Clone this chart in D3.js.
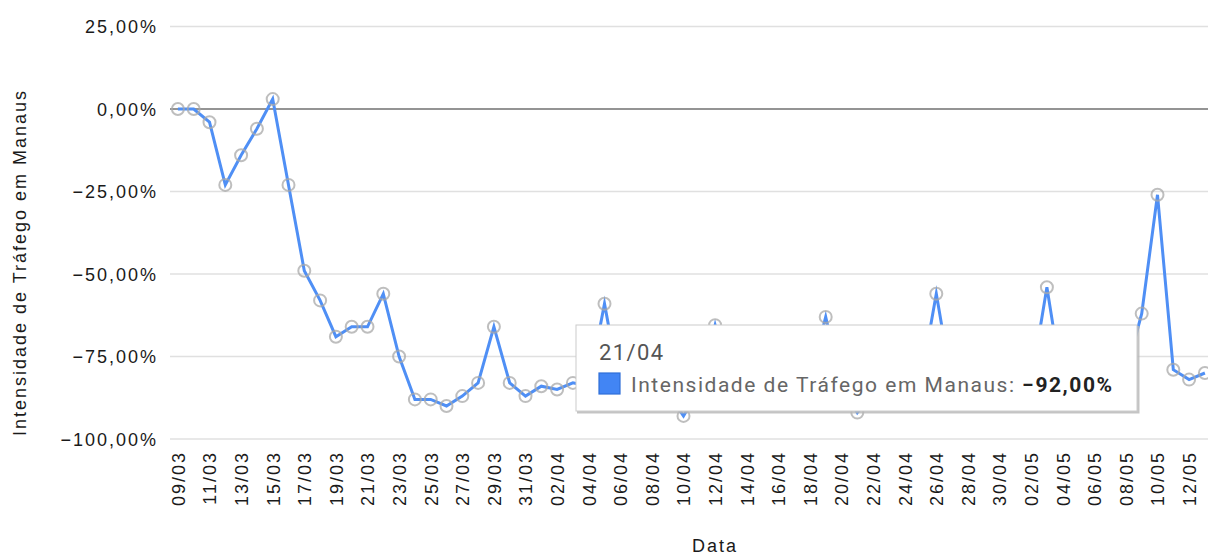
<!DOCTYPE html>
<html>
<head>
<meta charset="utf-8">
<script src="https://cdn.jsdelivr.net/npm/d3@7"></script>
<style>
  html, body { margin: 0; padding: 0; background: #fff; }
  svg { display: block; }
</style>
</head>
<body>
<svg id="chart" width="1208" height="557"></svg>
<script>
const categories = ["09/03","10/03","11/03","12/03","13/03","14/03","15/03","16/03","17/03","18/03","19/03","20/03","21/03","22/03","23/03","24/03","25/03","26/03","27/03","28/03","29/03","30/03","31/03","01/04","02/04","03/04","04/04","05/04","06/04","07/04","08/04","09/04","10/04","11/04","12/04","13/04","14/04","15/04","16/04","17/04","18/04","19/04","20/04","21/04","22/04","23/04","24/04","25/04","26/04","27/04","28/04","29/04","30/04","01/05","02/05","03/05","04/05","05/05","06/05","07/05","08/05","09/05","10/05","11/05","12/05","13/05"];
const values = [0,0,-4,-23,-14,-6,3,-23,-49,-58,-69,-66,-66,-56,-75,-88,-88,-90,-87,-83,-66,-83,-87,-84,-85,-83,-84,-59,-85,-86,-87,-86,-93,-85,-65.5,-84,-86,-87,-86,-84,-82,-63,-84,-92,-86,-85,-84,-83,-56,-84,-85,-86,-85,-84,-83,-54,-84,-85,-85,-84,-80,-62,-26,-79,-82,-80];
const yTicks = [-100, -75, -50, -25, 0, 25];
const seriesName = "Intensidade de Tráfego em Manaus";
const xTitle = "Data";
const focusCategory = "21/04";

(function () {
const svg = d3.select("#chart");
const plotLeft = 170, plotW = 66 * 15.8, plotRight = plotLeft + plotW;
const plotTop = 26.5, plotBottom = 439;

const x = d3.scalePoint().domain(categories).range([plotLeft, plotRight]).padding(0.5);
const y = d3.scaleLinear().domain([-100, 25]).range([plotBottom, plotTop]);

const loc = d3.formatLocale({decimal: ",", thousands: ".", grouping: [3], currency: ["", ""]});
const fmt = v => loc.format(".2f")(v) + "%";

const axisFont = "'Liberation Sans', Arial, sans-serif";
const textCol = "#1a1a1a";

// gridlines
svg.append("g").selectAll("line").data(yTicks.filter(d => d !== 0)).join("line")
  .attr("x1", plotLeft).attr("x2", plotRight)
  .attr("y1", d => y(d)).attr("y2", d => y(d))
  .attr("stroke", "#e0e0e0").attr("stroke-width", 1.6);

// baseline at 0
svg.append("line")
  .attr("x1", plotLeft).attr("x2", plotRight)
  .attr("y1", y(0)).attr("y2", y(0))
  .attr("stroke", "#707070").attr("stroke-width", 1.6);

// y axis labels
const yAxis = d3.axisLeft(y).tickValues(yTicks).tickFormat(fmt).tickSize(0).tickPadding(0);
const gy = svg.append("g").attr("transform", `translate(156,0)`).call(yAxis);
gy.select(".domain").remove();
gy.selectAll("text")
  .attr("font-family", axisFont).attr("font-size", 18).attr("letter-spacing", "2px")
  .attr("fill", textCol).attr("dy", "0.35em").attr("x", 2);

// x axis labels
const xAxis = d3.axisBottom(x).tickValues(categories.filter((d, i) => i % 2 === 0)).tickSize(0).tickPadding(0);
const gx = svg.append("g").attr("transform", `translate(0,${plotBottom})`).call(xAxis);
gx.select(".domain").remove();
gx.selectAll("text")
  .attr("font-family", axisFont).attr("font-size", 18).attr("letter-spacing", "2px")
  .attr("fill", textCol)
  .attr("text-anchor", "end")
  .attr("transform", "rotate(-90)")
  .attr("x", -12).attr("y", 0).attr("dy", "0.35em");

// axis titles
svg.append("text")
  .attr("transform", "translate(26,262.5) rotate(-90)")
  .attr("text-anchor", "middle")
  .attr("font-family", axisFont).attr("font-size", 18).attr("letter-spacing", "2px")
  .attr("fill", textCol)
  .text(seriesName);
svg.append("text")
  .attr("x", 715).attr("y", 552)
  .attr("text-anchor", "middle")
  .attr("font-family", axisFont).attr("font-size", 18).attr("letter-spacing", "2px")
  .attr("fill", textCol)
  .text(xTitle);

// line
const pts = categories.map((c, i) => ({c, v: values[i]}));
svg.append("path")
  .datum(pts)
  .attr("fill", "none")
  .attr("stroke", "#4f8ff5")
  .attr("stroke-width", 3)
  .attr("stroke-linejoin", "miter")
  .attr("stroke-miterlimit", 6)
  .attr("d", d3.line().x(d => x(d.c)).y(d => y(d.v)));

// markers
svg.append("g").selectAll("circle").data(pts).join("circle")
  .attr("cx", d => x(d.c)).attr("cy", d => y(d.v)).attr("r", 6)
  .attr("fill", "none").attr("stroke", "#a8a8a8").attr("stroke-opacity", 0.75).attr("stroke-width", 2);

// tooltip
const fIdx = categories.indexOf(focusCategory);
const tip = svg.append("g");
const tx = 576, ty = 325, tw = 561, th = 86;
tip.append("rect").attr("x", tx + 1).attr("y", ty + 1).attr("width", tw + 1.5).attr("height", th + 1.5)
  .attr("fill", "#b5b5b5").attr("opacity", 0.8);
tip.append("rect").attr("x", tx).attr("y", ty).attr("width", tw).attr("height", th)
  .attr("fill", "#fff").attr("stroke", "#cccccc").attr("stroke-width", 1);
tip.append("text")
  .attr("x", 599).attr("y", 360)
  .attr("font-family", "Roboto, 'Noto Sans', sans-serif").attr("font-size", 22)
  .attr("fill", "#555")
  .attr("textLength", 64).attr("lengthAdjust", "spacing")
  .text(focusCategory);
tip.append("rect").attr("x", 599).attr("y", 373).attr("width", 21).attr("height", 21)
  .attr("fill", "#4285f4").attr("stroke", "#2f6fd8").attr("stroke-width", 1.2);
const t2 = tip.append("text")
  .attr("x", 631).attr("y", 392)
  .attr("font-family", "Roboto, 'Noto Sans', sans-serif").attr("font-size", 21)
  .attr("fill", "#666")
  .attr("textLength", 481).attr("lengthAdjust", "spacing");
t2.append("tspan").text(seriesName + ": ");
t2.append("tspan").attr("font-weight", "bold").attr("fill", "#222").text(fmt(values[fIdx]));
})();
</script>
</body>
</html>
